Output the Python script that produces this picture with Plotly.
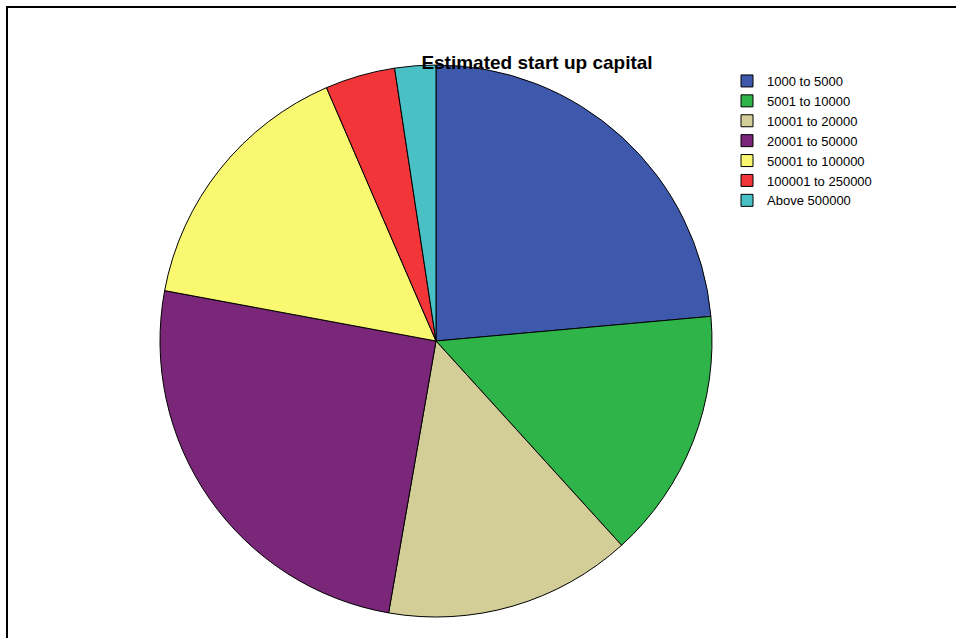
import plotly.graph_objects as go

categories = ["1000 to 5000", "5001 to 10000", "10001 to 20000", "20001 to 50000",
              "50001 to 100000", "100001 to 250000", "Above 500000"]
values = [23.6, 14.7, 14.5, 25.2, 15.6, 4.1, 2.4]
colors = ["#3E58AC", "#2FB44A", "#D3CE97", "#7A2779", "#FAF771", "#F13539", "#48C0C6"]

W, H = 956, 638
cx, cy, R = 436, 341, 276

fig = go.Figure(go.Pie(
    labels=categories, values=values, sort=False, direction="clockwise", rotation=0,
    marker=dict(colors=colors, line=dict(color="black", width=1)),
    textinfo="none", hoverinfo="label+value",
    domain=dict(x=[(cx - R) / W, (cx + R) / W], y=[(H - cy - R) / H, (H - cy + R) / H]),
))

fig.update_layout(
    width=W, height=H, margin=dict(l=0, r=0, t=0, b=0),
    paper_bgcolor="white", plot_bgcolor="white",
    font=dict(family="Arial, Liberation Sans, sans-serif", color="black"),
    title=dict(text="<b>Estimated start up capital</b>", x=537 / W, y=1 - 62 / H,
               xanchor="center", yanchor="middle", font=dict(size=19, color="black")),
    legend=dict(x=727 / W, y=1 - 66 / H, xanchor="left", yanchor="top",
                font=dict(size=13, color="black"), tracegroupgap=0,
                bgcolor="rgba(0,0,0,0)", itemwidth=30),
    shapes=[
        dict(type="line", xref="paper", yref="paper", x0=6 / W, x1=1, y0=1 - 7 / H, y1=1 - 7 / H,
             line=dict(color="black", width=2)),
        dict(type="line", xref="paper", yref="paper", x0=7 / W, x1=7 / W, y0=0, y1=1 - 6 / H,
             line=dict(color="black", width=2)),
    ],
)

fig.write_html("out.html")
